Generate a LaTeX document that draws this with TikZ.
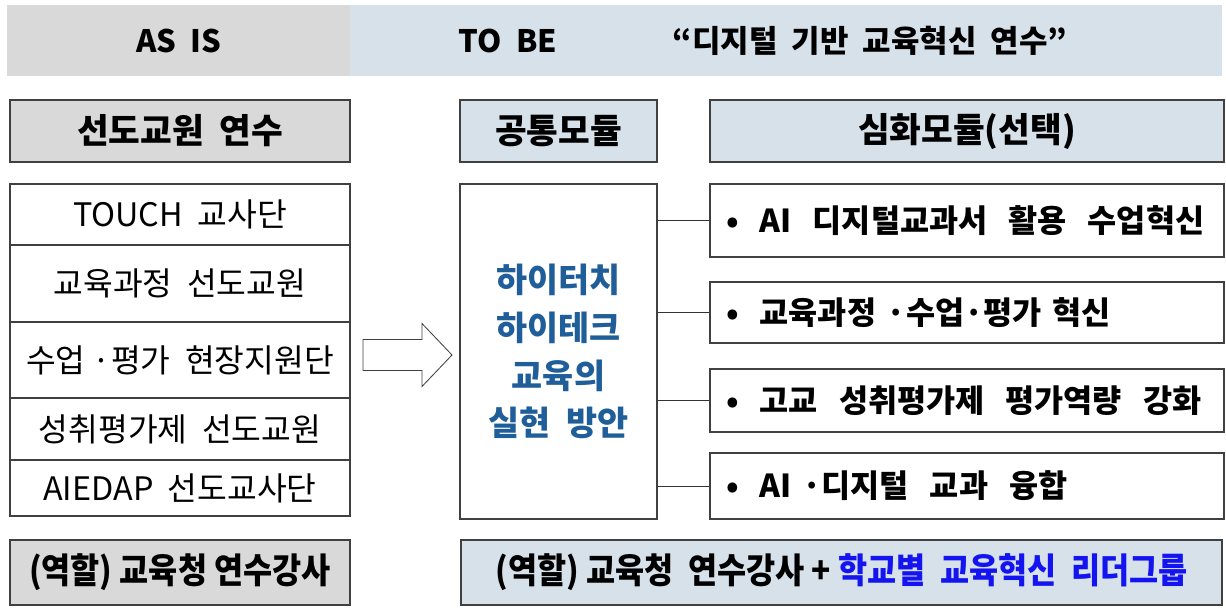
\documentclass[tikz,border=0pt]{standalone}
\usepackage{fontspec}
\usepackage{graphicx}
\setmainfont{Noto Sans CJK KR}

\definecolor{grayfill}{HTML}{D9D9D9}
\definecolor{bluefill}{HTML}{D6E1E9}
\definecolor{planblue}{HTML}{1F5E98}
\definecolor{leadblue}{HTML}{1414F0}
\newcommand{\pxu}{0.025cm}
\newcommand{\narrow}[1]{\scalebox{0.9}[1]{#1}}

\tikzset{
  cell/.style={draw=black!75, line width=0.8pt, inner sep=0pt},
  bandtext/.style={font=\bfseries\fontsize{22}{26}\selectfont},
  headtext/.style={font=\bfseries\fontsize{24.5}{28}\selectfont},
  itemtext/.style={font=\fontsize{23}{27}\selectfont},
  deeptext/.style={font=\bfseries\fontsize{22.5}{26}\selectfont, text width=482*\pxu, align=left},
  roletext/.style={font=\bfseries\fontsize{25}{29}\selectfont},
  conn/.style={draw=black!80, line width=0.6pt},
}

\begin{document}
\begin{tikzpicture}[x=\pxu,y=-\pxu]
\useasboundingbox (0,0) rectangle (1226,607);

% top bands
\node[inner sep=0pt, fill=grayfill, minimum width=343*\pxu, minimum height=71*\pxu, bandtext] (asis) at (178.5,40.5) {AS\ \ IS};
\node[inner sep=0pt, fill=bluefill, minimum width=872*\pxu, minimum height=71*\pxu] (tobe) at (786,40.5) {};
\node[bandtext] (tobelabel) at (508,40.5) {TO\ \ BE};
\node[bandtext] (slogan) at (870,40.5) {“디지털\ \ 기반\ \ 교육혁신\ \ 연수”};

% headings
\node[cell, fill=grayfill, minimum width=340*\pxu, minimum height=62*\pxu, headtext] (asishead) at (180,131) {선도교원\ \ 연수};
\node[cell, fill=bluefill, minimum width=197*\pxu, minimum height=62*\pxu, headtext] (commonhead) at (558.5,131) {공통모듈};
\node[cell, fill=bluefill, minimum width=514*\pxu, minimum height=62*\pxu, headtext] (deephead) at (967,131) {심화모듈(선택)};

% as is list
\node[cell, minimum width=340*\pxu, minimum height=61*\pxu, itemtext] (touch) at (180,214.5) {TOUCH\ \ 교사단};
\node[cell, minimum width=340*\pxu, minimum height=77*\pxu, itemtext] (curric) at (180,283.5) {교육과정\ \ 선도교원};
\node[cell, minimum width=340*\pxu, minimum height=76*\pxu, itemtext] (field) at (180,360) {수업\ ·평가\ \ 현장지원단};
\node[cell, minimum width=340*\pxu, minimum height=62*\pxu, itemtext] (grade) at (180,429) {성취평가제\ \ 선도교원};
\node[cell, minimum width=340*\pxu, minimum height=56*\pxu, itemtext] (aiedap) at (180,488) {AIEDAP\ \ 선도교사단};

% block arrow
\coordinate (shift) at (363,355);
\draw[draw=black!75, line width=0.6pt, fill=white] (shift) ++(0,-15.5) -- ++(59,0) -- ++(0,-16) -- ++(30,31.5)
  -- ++(-30,31.5) -- ++(0,-16) -- ++(-59,0) -- cycle;

% common module
\node[cell, minimum width=197*\pxu, minimum height=335*\pxu, text=planblue, align=center,
  font=\bfseries\fontsize{24}{34}\selectfont] (common) at (558.5,351.5) {하이터치\\하이테크\\교육의\\실현\ \ 방안};

% deep modules
\node[cell, minimum width=514*\pxu, minimum height=73*\pxu, deeptext] (deep1) at (967,220.5) {•\ \ AI\ \ 디지털교과서\ \ 활용\ \ 수업혁신};
\node[cell, minimum width=514*\pxu, minimum height=61*\pxu, deeptext] (deep2) at (967,312.5) {•\ \ 교육과정\ ·수업·평가\ 혁신};
\node[cell, minimum width=514*\pxu, minimum height=63*\pxu, deeptext] (deep3) at (967,400.5) {•\ \ 고교\ \ 성취평가제\ \ 평가역량\ \ 강화};
\node[cell, minimum width=514*\pxu, minimum height=66*\pxu, deeptext] (deep4) at (967,486) {•\ \ AI\ ·디지털\ \ 교과\ \ 융합};

\foreach \d in {deep1,deep2,deep3,deep4}
  \draw[conn] (\d.west) -- (\d.west -| common.east);

% roles
\node[cell, fill=grayfill, minimum width=340*\pxu, minimum height=65*\pxu, roletext] (asisrole) at (180,572.5) {\narrow{(역할)\ 교육청\ 연수강사}};
\node[cell, fill=bluefill, minimum width=761*\pxu, minimum height=65*\pxu, roletext] (toberole) at (841.5,572.5) {\narrow{(역할)\ 교육청\ \ 연수강사\ +\ \textcolor{leadblue}{학교별\ \ 교육혁신\ \ 리더그룹}}};

\end{tikzpicture}
\end{document}
